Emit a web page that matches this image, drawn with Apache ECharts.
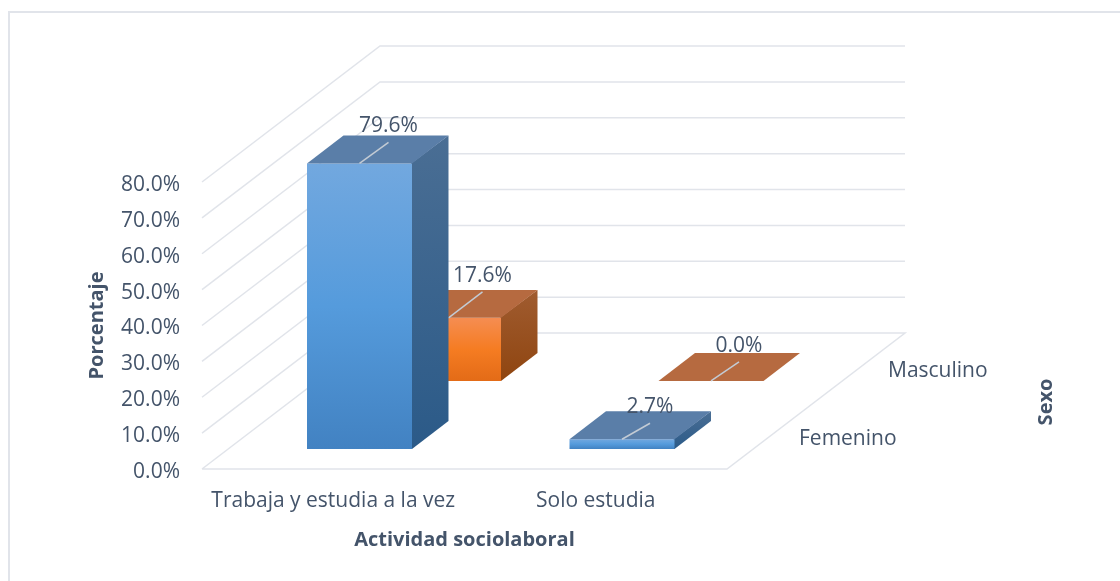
<!DOCTYPE html>
<html>
<head>
<meta charset="utf-8">
<style>html,body{margin:0;padding:0;background:#fff}#c{width:1120px;height:581px}</style>
<script src="https://cdn.jsdelivr.net/npm/echarts@6/dist/echarts.min.js"></script>
</head>
<body>
<div id="c"></div>
<script>
const categories = ['Trabaja y estudia a la vez', 'Solo estudia'];
const sexes = ['Femenino', 'Masculino'];
const femenino = [79.6, 2.7];
const masculino = [17.6, 0.0];
const yTicks = [0, 10, 20, 30, 40, 50, 60, 70, 80];

const FONT = '"Open Sans", "Noto Sans", sans-serif';
const TEXT = '#44546a';
const GRID = '#e1e4ea';
const DEPTH_X = 178, DEPTH_Y = 136;
const BAR_W = 0.4, BAR_D = 0.41;

function vgrad(stops) {
  return new echarts.graphic.LinearGradient(0, 0, 0, 1,
    stops.map((c, i) => ({ offset: i / (stops.length - 1), color: c })));
}
const palette = [
  { front: ['#72a8df', '#559bdc', '#4282c2'], side: ['#4a6e94', '#2b5a88'], top: '#5a7ea8' },
  { front: ['#f58d52', '#f57c22', '#e36b17'], side: ['#a05c30', '#8f4510'], top: '#b66a40' }
];
// leader-line reach per [row][category]
const leaders = [[[29, -21], [28, -16]], [[34, -26], [28, -19]]];

function barRenderer(row) {
  return function (params, api) {
    const cat = api.value(0), val = api.value(1);
    const base = api.coord([cat, 0]), up = api.coord([cat, val]);
    const band = api.size([1, 0])[0];
    const frac = (row + 0.5) / sexes.length;
    const halfW = band * BAR_W / 2;
    const ddx = DEPTH_X / sexes.length * BAR_D, ddy = DEPTH_Y / sexes.length * BAR_D;
    const dx = DEPTH_X * frac - ddx / 2, dy = DEPTH_Y * frac - ddy / 2;
    const xL = base[0] + dx - halfW, xR = base[0] + dx + halfW;
    const yB = base[1] - dy, yT = up[1] - dy;
    const c = palette[row];
    const kids = [];
    if (yB - yT > 0.5) {
      kids.push({ type: 'polygon', shape: { points: [[xR - 1, yT], [xR + ddx, yT - ddy], [xR + ddx, yB - ddy], [xR, yB], [xR - 1, yB]] },
        style: { fill: vgrad(c.side) } });
      kids.push({ type: 'rect', shape: { x: xL, y: yT, width: xR - xL, height: yB - yT },
        style: { fill: vgrad(c.front) } });
    }
    kids.push({ type: 'polygon', shape: { points: [[xL, yT], [xL + ddx, yT - ddy], [xR + ddx, yT - ddy], [xR, yT]] },
      style: { fill: c.top } });
    const lx = base[0] + dx, l = leaders[row][cat];
    kids.push({ type: 'line', shape: { x1: lx, y1: yT, x2: lx + l[0], y2: yT + l[1] },
      style: { stroke: '#c3cbd4', lineWidth: 1.5 } });
    kids.push({ type: 'text', style: { x: lx + l[0], y: yT + l[1] - 16, text: val.toFixed(1) + '%',
      fill: TEXT, font: '21px ' + FONT, align: 'center', verticalAlign: 'middle' } });
    return { type: 'group', children: kids };
  };
}

function wallRenderer(params, api) {
  const v = api.value(0), cs = params.coordSys;
  const y = api.coord([0, v])[1];
  const x0 = cs.x, x1 = x0 + DEPTH_X, y1 = y - DEPTH_Y;
  const pts = [[x0, y], [x1, y1], [x1 + cs.width, y1]];
  if (v === 0) pts.push([x0 + cs.width, y], [x0, y]);
  return { type: 'polyline', shape: { points: pts },
    style: { stroke: GRID, lineWidth: 1.5, fill: null }, silent: true };
}

function depthLabelRenderer(params, api) {
  const i = api.value(0), cs = params.coordSys;
  const f = (i + 0.5) / sexes.length;
  const y = api.coord([0, 0])[1];
  return { type: 'text', style: { x: cs.x + cs.width + DEPTH_X * f + 27.5, y: y - DEPTH_Y * f + 4,
    text: sexes[i], fill: TEXT, font: '21px ' + FONT, align: 'left', verticalAlign: 'middle' } };
}

const chart = echarts.init(document.getElementById('c'), null, { renderer: 'canvas' });
chart.setOption({
  animation: false,
  backgroundColor: '#ffffff',
  grid: { left: 202, width: 525, top: 182, height: 287 },
  xAxis: {
    type: 'category', data: categories,
    axisLine: { show: false }, axisTick: { show: false },
    axisLabel: { color: TEXT, fontFamily: FONT, fontSize: 21, margin: 22, interval: 0 },
    name: 'Actividad sociolaboral', nameLocation: 'middle', nameGap: 61,
    nameTextStyle: { color: TEXT, fontFamily: FONT, fontSize: 20, fontWeight: 'bold' }
  },
  yAxis: {
    type: 'value', min: 0, max: 80, interval: 10,
    axisLine: { show: false }, axisTick: { show: false }, splitLine: { show: false },
    axisLabel: { margin: 22,
      formatter: v => '{t|' + v.toFixed(1) + '%}',
      rich: { t: { color: TEXT, fontFamily: FONT, fontSize: 21, padding: [6, 0, 0, 0] } } },
    name: 'Porcentaje', nameLocation: 'middle', nameGap: 95,
    nameTextStyle: { color: TEXT, fontFamily: FONT, fontSize: 20, fontWeight: 'bold' }
  },
  graphic: [
    { type: 'polyline', shape: { points: [[9, 581], [9, 12], [1120, 12]] }, silent: true, z: -1,
      style: { fill: null, stroke: GRID, lineWidth: 2 } },
    { type: 'text', x: 1046, y: 402, rotation: Math.PI / 2, silent: true,
      style: { text: 'Sexo', fill: TEXT, font: 'bold 20px ' + FONT, align: 'center', verticalAlign: 'middle' } }
  ],
  series: [
    { type: 'custom', name: 'walls', renderItem: wallRenderer, data: yTicks.map(v => [v]), encode: { y: 0 }, silent: true, clip: false },
    { type: 'custom', name: 'sexLabels', renderItem: depthLabelRenderer, data: sexes.map((s, i) => [i]), silent: true, clip: false },
    { type: 'custom', name: sexes[1], renderItem: barRenderer(1), data: masculino.map((v, i) => [i, v]), encode: { x: 0, y: 1 }, clip: false },
    { type: 'custom', name: sexes[0], renderItem: barRenderer(0), data: femenino.map((v, i) => [i, v]), encode: { x: 0, y: 1 }, clip: false }
  ]
});
</script>
</body>
</html>
